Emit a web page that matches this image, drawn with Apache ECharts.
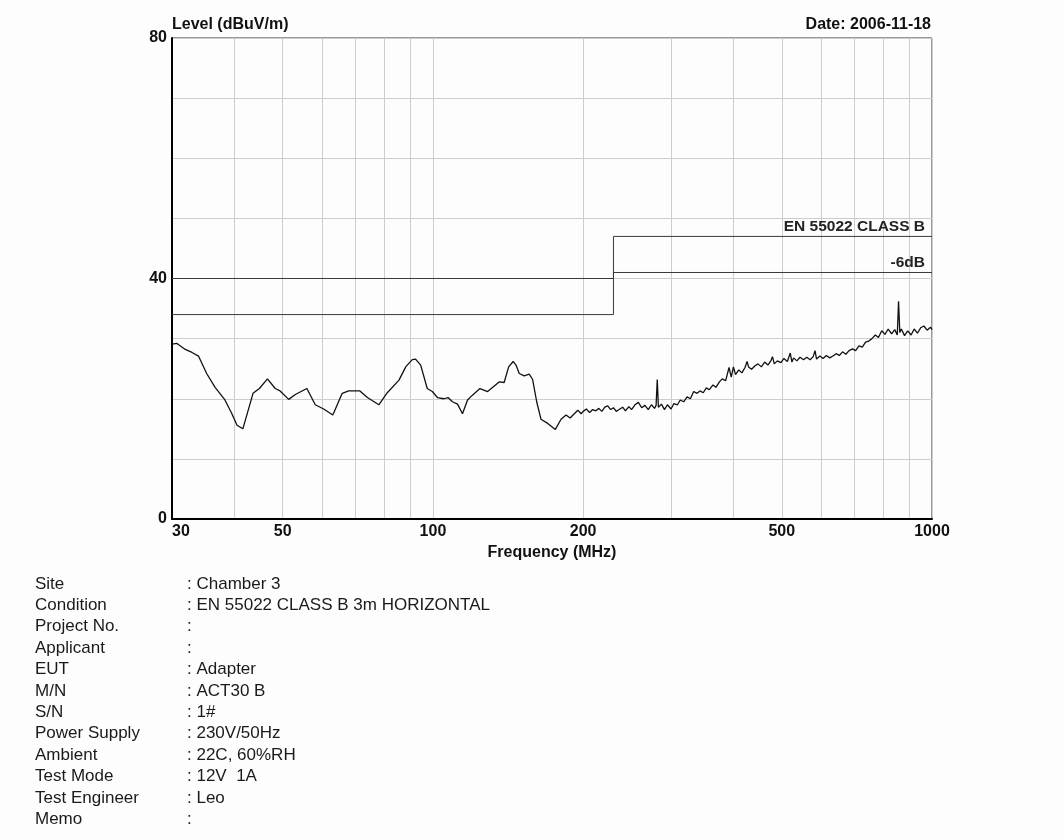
<!DOCTYPE html>
<html>
<head>
<meta charset="utf-8">
<title>Radiated Emission - Chamber 3</title>
<script src="https://cdn.jsdelivr.net/npm/echarts@6/dist/echarts.min.js"></script>
<style>
  html, body { margin: 0; padding: 0; background: #fdfdfd; }
  #chart { width: 1063px; height: 840px; }
</style>
</head>
<body>
<div id="chart"></div>
<script>
// Measured field strength, frequency in MHz / level in dBuV/m
const freqMHz = [
  30, 30.7, 31.9, 32.9, 33.9, 35.2, 36.6, 38.3, 39.5, 40.5, 41.6, 43.6, 44.9, 46.6, 48.3, 49.4,
  51.4, 53.0, 55.9, 58.1, 60.4, 63.0, 65.8, 67.8, 71.4, 73.9, 77.9, 81.0, 85.5, 88.2, 90.9, 92.3,
  94.5, 97.4, 99.7, 102.1, 105.2, 107.2, 109.4, 112.0, 114.6, 117.3, 120.0, 124.2, 128.7, 135.7,
  138.9, 141.8, 144.8, 146.7, 148.9, 152.4, 155.9, 158.4, 161.4, 164.6, 169.8, 175.9, 180.6,
  184.8, 188.3, 195.1, 198.1,
  200, 203, 206, 209, 212, 215, 218, 221, 224, 227, 230, 233, 236, 240, 243, 247, 250, 254, 258,
  262, 266, 270, 274, 278, 280, 281.5, 283, 287, 291, 295, 300, 304, 309, 313, 318, 323, 328,
  333, 338, 343, 348, 353, 358, 364, 369, 375, 380, 386, 392, 396, 400, 404, 410, 416, 422, 426,
  429, 435, 442, 448, 455, 462, 469, 476, 479, 483, 490, 498, 505, 513, 520, 524, 528, 536, 544,
  553, 561, 570, 578, 583, 587, 596, 605, 614, 624, 633, 643, 652, 662, 672, 682, 693, 703, 714,
  725, 736, 747, 758, 770, 781, 793, 805, 817, 830, 842, 852, 857, 862, 868, 881, 894, 908, 921,
  935, 949, 963, 978, 993, 1000
];
const levelDb = [
  29.1, 29.2, 28.2, 27.7, 27.1, 24.2, 21.9, 19.8, 17.6, 15.6, 15.0, 20.9, 21.7, 23.3, 21.7, 21.3,
  19.9, 20.7, 21.7, 19.0, 18.3, 17.3, 20.9, 21.3, 21.3, 20.2, 19.0, 21.0, 23.1, 25.3, 26.5, 26.6,
  25.6, 21.7, 21.2, 20.2, 20.0, 20.2, 19.5, 19.1, 17.5, 19.8, 20.6, 21.7, 21.2, 22.8,
  22.7, 25.3, 26.2, 25.6, 24.2, 23.8, 24.1, 23.2, 19.5, 16.6, 15.9, 14.9, 16.6,
  17.3, 16.8, 18.1, 17.5,
  17.9, 18.3, 17.7, 18.2, 18.0, 18.4, 17.9, 18.6, 18.8, 18.2, 18.5, 17.9, 18.2, 18.6, 18.0, 18.7, 18.2, 19.0, 19.4,
  18.5, 18.9, 18.2, 19.0, 18.4, 18.9, 23.2, 18.6, 19.1, 18.2, 19.0, 18.3, 19.2, 19.0, 19.8, 19.5, 20.3, 20.0,
  21.2, 20.9, 21.3, 21.0, 21.8, 21.5, 22.3, 21.9, 22.8, 23.3, 23.0, 25.2, 23.6, 25.3, 24.0, 24.8, 24.3, 25.2, 26.2,
  25.3, 24.9, 25.5, 25.8, 25.3, 26.1, 25.6, 26.4, 27.0, 25.8, 26.3, 26.0, 26.7, 26.2, 27.6, 26.1, 26.8, 26.3, 26.9,
  26.5, 26.9, 26.5, 27.0, 28.0, 26.6, 27.1, 26.7, 27.2, 26.8, 27.1, 27.5, 27.2, 27.8, 27.4, 28.0, 28.3, 28.0, 28.8,
  28.6, 29.4, 29.6, 30.0, 30.6, 30.2, 31.3, 30.7, 31.6, 30.8, 31.5, 30.6, 36.2, 31.0, 31.6, 30.5, 31.3, 30.6, 31.6,
  30.9, 31.8, 32.1, 31.4, 31.9, 31.5
];

// EN 55022 Class B (3 m) limit and the -6 dB margin line
const limitFreq = [30, 230, 230, 1000];
const limitClassB = [40, 40, 47, 47];
const limitMargin = [34, 34, 41, 41];

// Axis ticks
const xGridTicks = [30, 40, 50, 60, 70, 80, 90, 100, 200, 300, 400, 500, 600, 700, 800, 900, 1000];
const xLabelTicks = [30, 50, 100, 200, 500, 1000];
const yLabelTicks = [0, 40, 80];

// Report header fields
const infoLabels = ['Site', 'Condition', 'Project No.', 'Applicant', 'EUT', 'M/N', 'S/N',
  'Power Supply', 'Ambient', 'Test Mode', 'Test Engineer', 'Memo'];
const infoValues = ['Chamber 3', 'EN 55022 CLASS B 3m HORIZONTAL', '', '', 'Adapter', 'ACT30 B',
  '1#', '230V/50Hz', '22C, 60%RH', '12V  1A', 'Leo', ''];

const zip = (xs, ys) => xs.map((x, i) => [x, ys[i]]);

const sansFont = "'Liberation Sans', Arial, sans-serif";
const boldText = { fontFamily: sansFont, fontWeight: 'bold', fontSize: 16, color: '#111' };

const chart = echarts.init(document.getElementById('chart'));

const infoGraphics = [];
infoLabels.forEach((lab, i) => {
  const y = 584 + i * 21.4;
  infoGraphics.push({
    type: 'text', x: 35, y: y,
    style: { text: lab, font: '17px ' + sansFont, fill: '#1a1a1a', verticalAlign: 'middle' }
  });
  infoGraphics.push({
    type: 'text', x: 187, y: y,
    style: { text: ': ' + infoValues[i], font: '17px ' + sansFont, fill: '#1a1a1a', verticalAlign: 'middle' }
  });
});

const option = {
  backgroundColor: '#fdfdfd',
  animation: false,
  grid: {
    left: 172, top: 38, right: 131, bottom: 321,
    show: true, borderColor: '#333', borderWidth: 1, backgroundColor: 'transparent'
  },
  xAxis: {
    type: 'log', logBase: 10, min: 30, max: 1000,
    name: 'Frequency (MHz)', nameLocation: 'middle', nameGap: 24,
    nameTextStyle: Object.assign({}, boldText),
    axisLine: { show: true, onZero: false, lineStyle: { color: '#000', width: 2 } },
    axisTick: { show: false, customValues: xGridTicks },
    axisLabel: Object.assign({
      customValues: xLabelTicks, margin: 5, alignMinLabel: 'left',
      showMinLabel: true, showMaxLabel: true,
      formatter: v => String(v)
    }, boldText),
    splitLine: { show: true, lineStyle: { color: '#cdcdcd', width: 1 } },
    minorSplitLine: { show: false }
  },
  yAxis: {
    type: 'value', min: 0, max: 80, interval: 10,
    axisLine: { show: true, lineStyle: { color: '#000', width: 2 } },
    axisTick: { show: false },
    axisLabel: Object.assign({
      margin: 5,
      formatter: v => (yLabelTicks.indexOf(v) >= 0 ? String(v) : '')
    }, boldText),
    splitLine: { show: true, lineStyle: { color: '#cdcdcd', width: 1 } }
  },
  series: [
    {
      name: 'EN 55022 CLASS B', type: 'line', data: zip(limitFreq, limitClassB),
      showSymbol: false, symbol: 'none', silent: true,
      lineStyle: { color: '#3a3a3a', width: 1 },
      endLabel: Object.assign({
        show: true, formatter: 'EN 55022 CLASS B', align: 'right', verticalAlign: 'bottom',
        distance: 0, offset: [-7, -2]
      }, boldText, { fontSize: 15.5, color: '#222' })
    },
    {
      name: '-6dB', type: 'line', data: zip(limitFreq, limitMargin),
      showSymbol: false, symbol: 'none', silent: true,
      lineStyle: { color: '#3a3a3a', width: 1 },
      endLabel: Object.assign({
        show: true, formatter: '-6dB', align: 'right', verticalAlign: 'bottom',
        distance: 0, offset: [-7, -2]
      }, boldText, { fontSize: 15.5, color: '#222' })
    },
    {
      name: 'Level', type: 'line', data: zip(freqMHz, levelDb),
      showSymbol: false, symbol: 'none', silent: true,
      lineStyle: { color: '#111', width: 1.3 }
    }
  ],
  graphic: [
    {
      type: 'text', x: 172, y: 25,
      style: { text: 'Level (dBuV/m)', font: 'bold 16px ' + sansFont, fill: '#111', verticalAlign: 'middle' }
    },
    {
      type: 'text', x: 931, y: 25,
      style: { text: 'Date: 2006-11-18', font: 'bold 16px ' + sansFont, fill: '#111', align: 'right', verticalAlign: 'middle' }
    }
  ].concat(infoGraphics)
};

chart.setOption(option);
</script>
</body>
</html>
